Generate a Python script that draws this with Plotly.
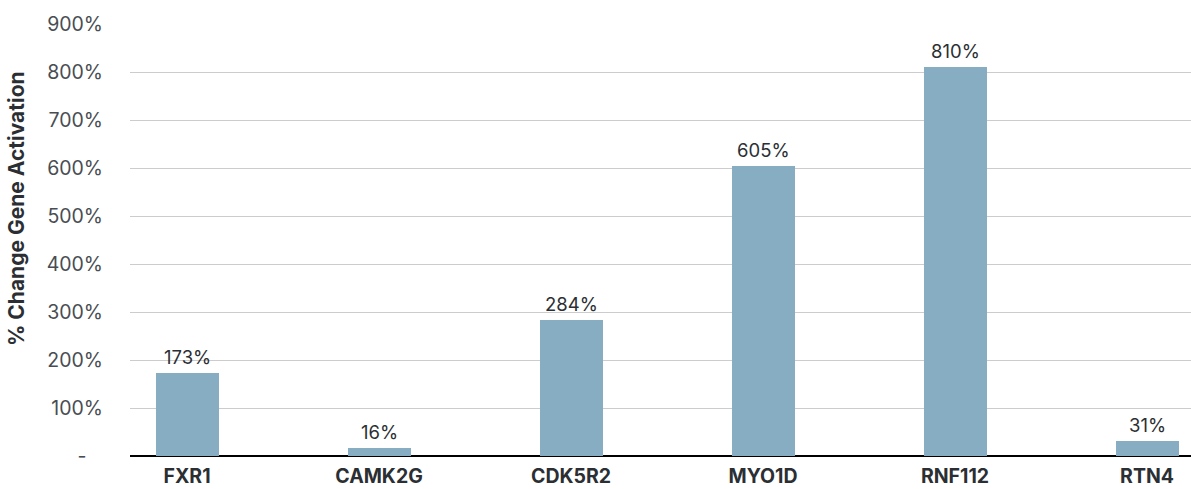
import plotly.graph_objects as go

genes = ["FXR1", "CAMK2G", "CDK5R2", "MYO1D", "RNF112", "RTN4"]
pct_change = [173, 16, 284, 605, 810, 31]
y_ticks = [0, 100, 200, 300, 400, 500, 600, 700, 800, 900]
y_tick_labels = ["-   "] + [f"{v}%" for v in y_ticks[1:]]

FONT = "Inter, 'Open Sans', sans-serif"
BAR_COLOR = "#86adc1"
TEXT_DARK = "#2b2f33"

fig = go.Figure(
    go.Bar(
        x=list(range(len(genes))),
        y=pct_change,
        width=0.328,
        marker=dict(color=BAR_COLOR, line=dict(width=0)),
        hoverinfo="skip",
    )
)

# value labels sitting just above each bar
value_labels = [
    dict(
        x=i,
        y=v,
        xref="x",
        yref="y",
        text=f"{v}%",
        showarrow=False,
        xanchor="center",
        yanchor="bottom",
        yshift=3,
        font=dict(family=FONT, size=18.5, color=TEXT_DARK),
    )
    for i, v in enumerate(pct_change)
]

fig.update_layout(
    width=1191,
    height=489,
    margin=dict(l=130, r=0, t=24, b=33),
    paper_bgcolor="white",
    plot_bgcolor="white",
    showlegend=False,
    bargap=0,
    xaxis=dict(
        range=[-0.297, 5.229],
        tickmode="array",
        tickvals=list(range(len(genes))),
        ticktext=[f"<b>{g}</b>" for g in genes],
        tickfont=dict(family=FONT, size=19.5, color=TEXT_DARK),
        showgrid=False,
        zeroline=False,
        showline=False,
        ticks="",
        ticklabelstandoff=6,
    ),
    yaxis=dict(
        range=[0, 900],
        tickmode="array",
        tickvals=y_ticks,
        ticktext=y_tick_labels,
        tickfont=dict(family=FONT, size=19.5, color="#484d52"),
        showgrid=True,
        gridcolor="#cccccc",
        gridwidth=1,
        zeroline=True,
        zerolinecolor="black",
        zerolinewidth=2,
        showline=False,
        ticks="",
        ticklabelstandoff=26,
    ),
    annotations=value_labels
    + [
        dict(
            text="<b>% Change Gene Activation</b>",
            textangle=-90,
            xref="paper",
            yref="paper",
            x=(17 - 130) / 1061,
            y=(456 - 209) / 432,
            xanchor="center",
            yanchor="middle",
            showarrow=False,
            font=dict(family=FONT, size=21, color=TEXT_DARK),
        )
    ],
)

fig.write_html("out.html")
